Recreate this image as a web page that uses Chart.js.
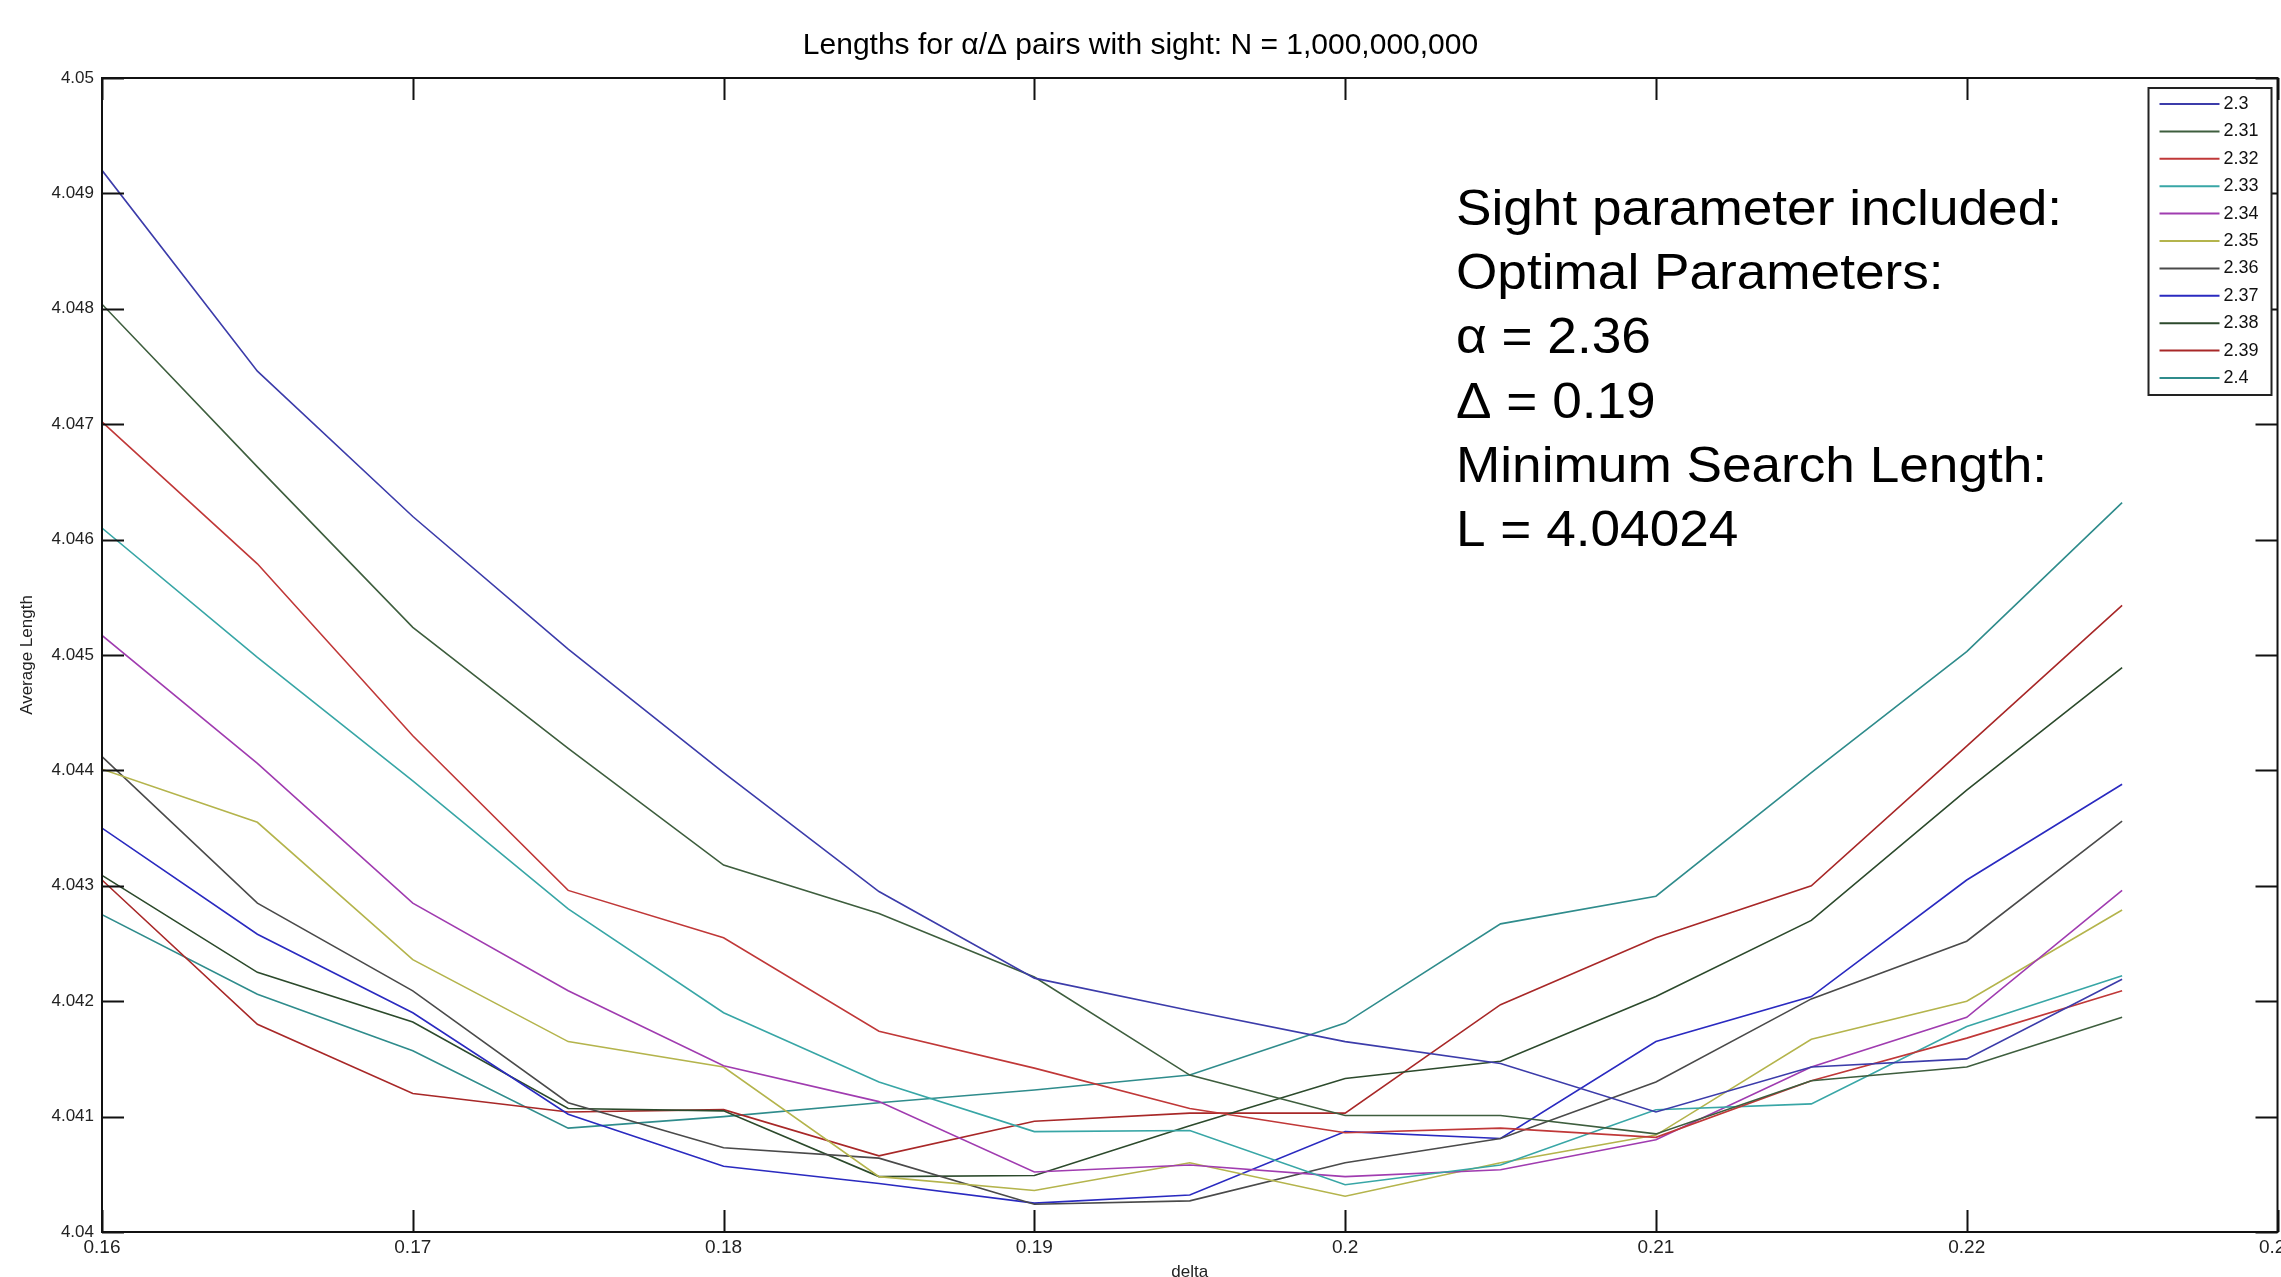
<!DOCTYPE html>
<html>
<head>
<meta charset="utf-8">
<title>Lengths for α/Δ pairs with sight</title>
<script src="https://cdn.jsdelivr.net/npm/chart.js@4.4.1/dist/chart.umd.min.js"></script>
<style>
    html, body { margin: 0; padding: 0; background: #fff; overflow: hidden; }
    #wrap { position: absolute; left: 0; top: 0; width: 2300px; height: 1300px; }
</style>
</head>
<body>
<div id="wrap"><canvas id="chart"></canvas></div>
<script>
// Average search length vs delta, one line per alpha

const DELTA = [0.16, 0.165, 0.17, 0.175, 0.18, 0.185, 0.19, 0.195, 0.2, 0.205, 0.21, 0.215, 0.22, 0.225];
const ALPHAS = ["2.3", "2.31", "2.32", "2.33", "2.34", "2.35", "2.36", "2.37", "2.38", "2.39", "2.4"];

const L_230 = [4.04920, 4.04746, 4.04620, 4.04505, 4.04398, 4.04295, 4.04220, 4.04192, 4.04165, 4.04146, 4.04104, 4.04143, 4.04150, 4.04219];
const L_231 = [4.04804, 4.04663, 4.04524, 4.04419, 4.04318, 4.04276, 4.04221, 4.04136, 4.04101, 4.04101, 4.04085, 4.04131, 4.04143, 4.04186];
const L_232 = [4.04702, 4.04579, 4.04430, 4.04296, 4.04255, 4.04174, 4.04142, 4.04107, 4.04086, 4.04090, 4.04082, 4.04131, 4.04168, 4.04209];
const L_233 = [4.04610, 4.04498, 4.04391, 4.04280, 4.04190, 4.04130, 4.04087, 4.04088, 4.04041, 4.04058, 4.04106, 4.04111, 4.04178, 4.04222];
const L_234 = [4.04517, 4.04406, 4.04285, 4.04209, 4.04144, 4.04113, 4.04052, 4.04058, 4.04048, 4.04054, 4.04080, 4.04143, 4.04186, 4.04296];
const L_235 = [4.04401, 4.04355, 4.04236, 4.04165, 4.04143, 4.04048, 4.04036, 4.04060, 4.04031, 4.04060, 4.04084, 4.04167, 4.04200, 4.04279];
const L_236 = [4.04412, 4.04285, 4.04209, 4.04112, 4.04073, 4.04064, 4.04024, 4.04027, 4.04060, 4.04081, 4.04130, 4.04202, 4.04252, 4.04356];
const L_237 = [4.04350, 4.04258, 4.04190, 4.04102, 4.04057, 4.04042, 4.04025, 4.04032, 4.04087, 4.04081, 4.04165, 4.04204, 4.04305, 4.04388];
const L_238 = [4.04309, 4.04225, 4.04182, 4.04107, 4.04105, 4.04048, 4.04049, 4.04092, 4.04133, 4.04148, 4.04204, 4.04270, 4.04383, 4.04489];
const L_239 = [4.04305, 4.04180, 4.04120, 4.04104, 4.04106, 4.04066, 4.04096, 4.04103, 4.04103, 4.04197, 4.04255, 4.04300, 4.04421, 4.04543];
const L_240 = [4.04275, 4.04206, 4.04157, 4.04090, 4.04100, 4.04112, 4.04123, 4.04136, 4.04181, 4.04267, 4.04291, 4.04398, 4.04503, 4.04632];

const SERIES = [L_230, L_231, L_232, L_233, L_234, L_235, L_236, L_237, L_238, L_239, L_240];

const X_TICKS = [0.16, 0.17, 0.18, 0.19, 0.2, 0.21, 0.22, 0.23];
const Y_TICKS = [4.04, 4.041, 4.042, 4.043, 4.044, 4.045, 4.046, 4.047, 4.048, 4.049, 4.05];

const COLORS = ["#3c3caa", "#3e5e3e", "#c03838", "#38a6a6", "#a03cb0", "#b4b44c",
                "#4a4a4a", "#2a2ac0", "#2c4a2c", "#a82828", "#2f8c8c"];

const NOTE_LINES = [
    "Sight parameter included:",
    "Optimal Parameters:",
    "α = 2.36",
    "Δ = 0.19",
    "Minimum Search Length:",
    "L = 4.04024",
];

const FONT = '"Liberation Sans", Arial, sans-serif';
const TICK_LEN = 22;

// ------------------------------------------------------------
// box + inward ticks (matlab style)
// ------------------------------------------------------------
const boxPlugin = {
    id: "box",
    afterDraw(chart) {
        const { ctx, chartArea: a, scales: { x, y } } = chart;
        ctx.save();
        ctx.strokeStyle = "#111";
        ctx.lineWidth = 2;
        ctx.beginPath();
        x.ticks.forEach(t => {
            const px = Math.round(x.getPixelForValue(t.value)) + 0.5;
            ctx.moveTo(px, a.bottom); ctx.lineTo(px, a.bottom - TICK_LEN);
            ctx.moveTo(px, a.top); ctx.lineTo(px, a.top + TICK_LEN);
        });
        y.ticks.forEach(t => {
            const py = Math.round(y.getPixelForValue(t.value)) + 0.5;
            ctx.moveTo(a.left, py); ctx.lineTo(a.left + TICK_LEN, py);
            ctx.moveTo(a.right, py); ctx.lineTo(a.right - TICK_LEN, py);
        });
        ctx.stroke();
        ctx.strokeRect(a.left, a.top, a.right - a.left, a.bottom - a.top);
        ctx.restore();
    },
};

// ------------------------------------------------------------
// text block with optimum
// ------------------------------------------------------------
const notePlugin = {
    id: "note",
    afterDraw(chart) {
        const { ctx, chartArea: a } = chart;
        ctx.save();
        ctx.font = `50px ${FONT}`;
        ctx.fillStyle = "#000";
        ctx.textBaseline = "alphabetic";
        const sx = 606 / ctx.measureText(NOTE_LINES[0]).width;
        ctx.translate(a.left + 1354, a.top + 147);
        ctx.scale(sx, 1);
        NOTE_LINES.forEach((s, i) => ctx.fillText(s, 0, i * 64.2));
        ctx.restore();
    },
};

// ------------------------------------------------------------
// legend box, top right inside the axes
// ------------------------------------------------------------
const legendPlugin = {
    id: "boxLegend",
    afterDraw(chart) {
        const { ctx, chartArea: a } = chart;
        const w = 123, h = 307, rowH = 27.4;
        const left = a.right - 6 - w, top = a.top + 10;
        ctx.save();
        ctx.fillStyle = "#fff";
        ctx.fillRect(left, top, w, h);
        ctx.strokeStyle = "#222";
        ctx.lineWidth = 2;
        ctx.strokeRect(left, top, w, h);
        ctx.font = `18px ${FONT}`;
        ctx.textBaseline = "middle";
        ctx.fillStyle = "#111";
        chart.data.datasets.forEach((ds, i) => {
            const cy = top + 16 + i * rowH;
            ctx.strokeStyle = ds.borderColor;
            ctx.lineWidth = 2;
            ctx.beginPath();
            ctx.moveTo(left + 11, cy);
            ctx.lineTo(left + 71, cy);
            ctx.stroke();
            ctx.fillText(ds.label, left + 75, cy);
        });
        ctx.restore();
    },
};

// ------------------------------------------------------------
// chart
// ------------------------------------------------------------
const datasets = ALPHAS.map((a, i) => ({
    label: a,
    data: DELTA.map((d, k) => ({ x: d, y: SERIES[i][k] })),
    borderColor: COLORS[i],
    backgroundColor: COLORS[i],
    borderWidth: 1.6,
    pointRadius: 0,
    tension: 0,
    fill: false,
}));

new Chart(document.getElementById("chart"), {
    type: "line",
    data: { datasets },
    options: {
        responsive: true,
        maintainAspectRatio: false,
        animation: false,
        layout: { padding: { left: 0, right: 19, top: 0, bottom: 0 } },
        plugins: {
            legend: { display: false },
            tooltip: { enabled: false },
            title: {
                display: true,
                text: "Lengths for α/Δ pairs with sight: N = 1,000,000,000",
                color: "#000",
                font: { family: FONT, size: 30, weight: "normal" },
                padding: { top: 28, bottom: 14 },
            },
        },
        scales: {
            x: {
                type: "linear",
                min: 0.16,
                max: 0.23,
                afterBuildTicks: s => { s.ticks = X_TICKS.map(v => ({ value: v })); },
                afterFit: s => { s.height = 68; },
                grid: { display: false, drawTicks: false },
                border: { display: false },
                ticks: {
                    color: "#222",
                    padding: 4,
                    maxRotation: 0,
                    autoSkip: false,
                    font: { family: FONT, size: 19 },
                    callback: v => String(Number(v.toFixed(2))),
                },
                title: {
                    display: true,
                    text: "delta",
                    color: "#222",
                    font: { family: FONT, size: 17 },
                    padding: { top: 0, bottom: 17 },
                },
            },
            y: {
                type: "linear",
                min: 4.04,
                max: 4.05,
                afterBuildTicks: s => { s.ticks = Y_TICKS.map(v => ({ value: v })); },
                afterFit: s => { s.width = 102; },
                grid: { display: false, drawTicks: false },
                border: { display: false },
                ticks: {
                    color: "#222",
                    padding: 8,
                    autoSkip: false,
                    font: { family: FONT, size: 17 },
                    callback: v => String(Number(v.toFixed(3))),
                },
                title: {
                    display: true,
                    text: "Average Length",
                    color: "#222",
                    font: { family: FONT, size: 17 },
                    padding: { top: 17, bottom: 0 },
                },
            },
        },
    },
    plugins: [boxPlugin, notePlugin, legendPlugin],
});
</script>
</body>
</html>
